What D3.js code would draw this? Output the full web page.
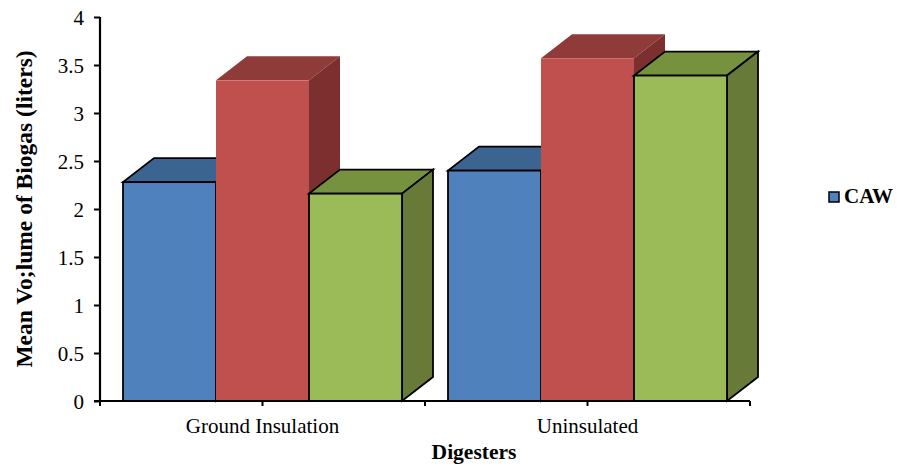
<!DOCTYPE html>
<html>
<head>
<meta charset="utf-8">
<script src="https://cdn.jsdelivr.net/npm/d3@7"></script>
<style>
  html, body { margin: 0; padding: 0; background: #fff; }
  svg { display: block; }
  text { font-family: "Liberation Serif", "Times New Roman", serif; fill: #000; }
</style>
</head>
<body>
<svg id="chart" width="899" height="468"></svg>
<script>
// Digester categories and the three measured series (mean biogas volume, litres)
const categories = ["Ground Insulation", "Uninsulated"];
const seriesNames = ["CAW", "Series 2", "Series 3"];
const caw      = [2.28, 2.40];
const series2  = [3.34, 3.57];
const series3  = [2.16, 3.39];
const yTicks   = [0, 0.5, 1, 1.5, 2, 2.5, 3, 3.5, 4];
const legendItems = ["CAW"];

const seriesValues = [caw, series2, series3];

// face colours: front, top, side
const palette = [
  { front: "#4F81BD", top: "#3C6491", side: "#385D8A", stroke: "#000" },
  { front: "#C0504D", top: "#8E3B39", side: "#7B2F2E", stroke: "none" },
  { front: "#9BBB59", top: "#77923F", side: "#677A37", stroke: "#000" }
];

const svg = d3.select("#chart");
const plot = { left: 100, right: 750, top: 17, bottom: 401 };
const depth = { dx: 31, dy: 24 };

const y = d3.scaleLinear().domain([0, 4]).range([plot.bottom, plot.top]);
const x0 = d3.scaleBand().domain(categories).range([plot.left, plot.right]);
const x1 = d3.scaleBand().domain(seriesNames).range([23, x0.bandwidth() - 23]);

// 3D columns, drawn left to right so each column hides its neighbour's side face
const bars = svg.append("g");
categories.forEach((cat, ci) => {
  seriesNames.forEach((name, si) => {
    const v = seriesValues[si][ci];
    const c = palette[si];
    const xl = x0(cat) + x1(name);
    const xr = xl + x1.bandwidth();
    const yt = y(v);
    const yb = y(0);
    const dx = depth.dx, dy = depth.dy;
    const g = bars.append("g")
      .attr("stroke", c.stroke)
      .attr("stroke-width", c.stroke === "none" ? 0 : 1.8)
      .attr("stroke-linejoin", "miter");
    g.append("polygon")
      .attr("points", [[xl, yt], [xr, yt], [xr + dx, yt - dy], [xl + dx, yt - dy]].join(" "))
      .attr("fill", c.top);
    g.append("polygon")
      .attr("points", [[xr, yt], [xr + dx, yt - dy], [xr + dx, yb - dy], [xr, yb]].join(" "))
      .attr("fill", c.side);
    g.append("rect")
      .attr("x", xl).attr("y", yt)
      .attr("width", xr - xl).attr("height", yb - yt)
      .attr("fill", c.front);
  });
});

// y axis
const yAxis = d3.axisLeft(y).tickValues(yTicks).tickSize(6).tickPadding(10)
  .tickFormat(d3.format("~g"));
const gy = svg.append("g").attr("transform", `translate(${plot.left},0)`).call(yAxis);
gy.select(".domain").attr("stroke", "#000").attr("stroke-width", 2.2)
  .attr("d", `M0,${plot.top}V${plot.bottom}`);
gy.selectAll(".tick line").attr("stroke", "#000").attr("stroke-width", 2);
gy.selectAll(".tick text").style("font-size", "21px").style("font-family", "Liberation Serif").attr("dy", "0.34em");

// x axis with marks at category centres and boundaries
const xAxis = d3.axisBottom(x0).tickSize(5).tickPadding(12);
const gx = svg.append("g").attr("transform", `translate(0,${plot.bottom})`).call(xAxis);
gx.select(".domain").attr("stroke", "#000").attr("stroke-width", 2.2)
  .attr("d", `M${plot.left - 6},0H${plot.right}`);
gx.selectAll(".tick line").attr("stroke", "#000").attr("stroke-width", 2);
gx.selectAll(".tick text").style("font-size", "21px").style("font-family", "Liberation Serif");
const bounds = [plot.left, ...categories.map(c => x0(c) + x0.bandwidth())];
gx.selectAll("line.bound").data(bounds).join("line")
  .attr("class", "bound")
  .attr("x1", d => d).attr("x2", d => d)
  .attr("y1", 0).attr("y2", 5)
  .attr("stroke", "#000").attr("stroke-width", 2);

// axis titles
svg.append("text")
  .attr("transform", `translate(32,209) rotate(-90)`)
  .attr("text-anchor", "middle")
  .style("font-size", "23.5px").style("font-weight", "bold")
  .text("Mean Vo;lume of Biogas (liters)");
svg.append("text")
  .attr("x", 474).attr("y", 459)
  .attr("text-anchor", "middle")
  .style("font-size", "21.5px").style("font-weight", "bold")
  .text("Digesters");

// legend
const lg = svg.append("g").attr("transform", "translate(829,192)");
legendItems.forEach((name, i) => {
  lg.append("rect").attr("x", 0).attr("y", i * 24).attr("width", 10).attr("height", 10)
    .attr("fill", palette[i].front).attr("stroke", "#000").attr("stroke-width", 1.5);
  lg.append("text").attr("x", 15).attr("y", i * 24 + 11)
    .style("font-size", "21px").style("font-weight", "bold")
    .text(name);
});
</script>
</body>
</html>
